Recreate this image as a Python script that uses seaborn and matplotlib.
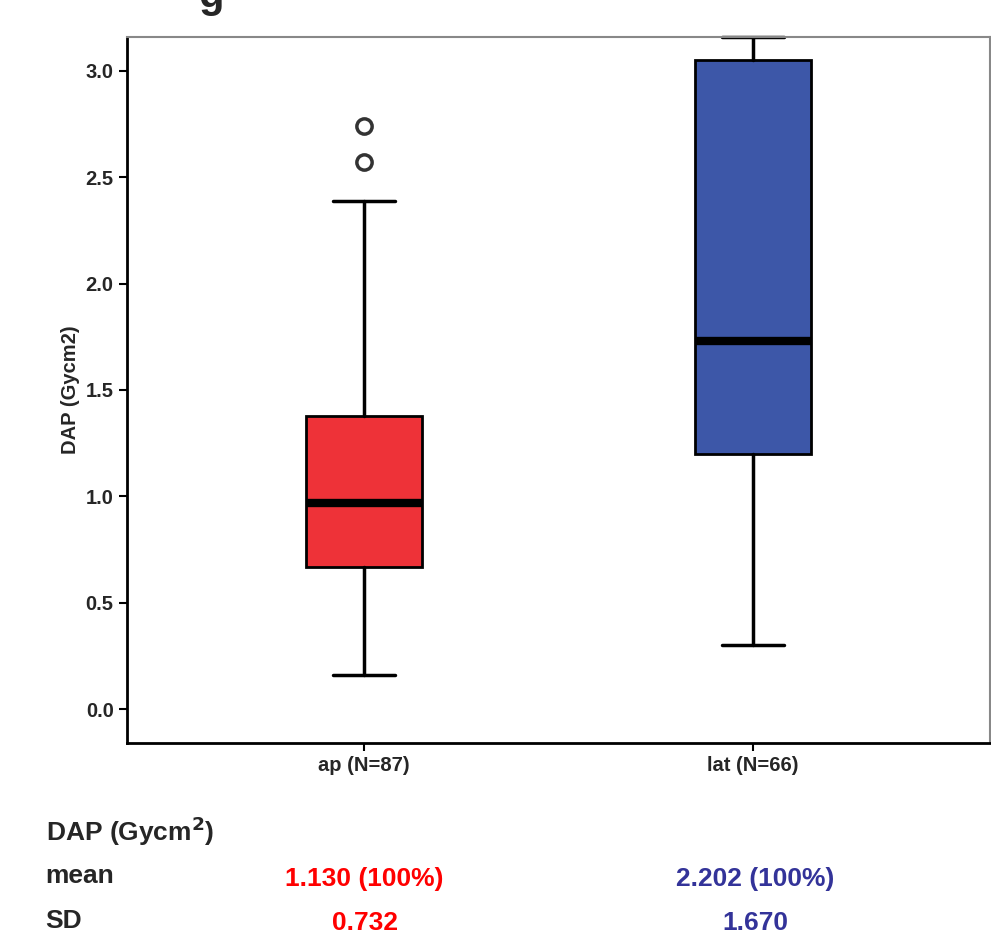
import numpy as np
import pandas as pd
import seaborn as sns
import matplotlib
matplotlib.use('Agg')
import matplotlib.pyplot as plt

sns.set_theme(style='white')
plt.rcParams['font.family'] = ['Liberation Sans', 'DejaVu Sans']

groups = ['ap (N=87)', 'lat (N=66)']
colors = ['#ee3238', '#3d57a8']
whislo = [0.16, 0.30]
q1 = [0.67, 1.20]
med = [0.97, 1.73]
q3 = [1.38, 3.05]
whishi = [2.39, 3.16]
fliers = [[2.57, 2.74], []]
means = ['1.130 (100%)', '2.202 (100%)']
sds = ['0.732', '1.670']
text_colors = ['#ff0000', '#333399']

stats = pd.DataFrame({'label': groups, 'whislo': whislo, 'q1': q1, 'med': med,
                      'q3': q3, 'whishi': whishi, 'fliers': fliers})

fig = plt.figure(figsize=(9.91, 9.42), dpi=100)
ax = fig.add_axes([0.128, 0.211, 0.871, 0.75])

bp = ax.bxp(stats.to_dict('records'), positions=[0, 1], widths=0.3, patch_artist=True,
            boxprops=dict(linewidth=2, edgecolor='black'),
            medianprops=dict(color='black', linewidth=6),
            whiskerprops=dict(color='black', linewidth=2.5),
            capprops=dict(color='black', linewidth=2.5), capwidths=0.16,
            flierprops=dict(marker='o', markersize=11, markerfacecolor='white',
                            markeredgecolor='#333333', markeredgewidth=2.5))
for patch, c in zip(bp['boxes'], colors):
    patch.set_facecolor(c)
for cap in bp['caps']:
    cap.set_clip_on(False)

ax.set_xlim(-0.61, 1.61)
ax.set_ylim(-0.16, 3.16)
ax.set_yticks(np.arange(0, 3.01, 0.5))
ax.set_yticklabels([f'{v:.1f}' for v in np.arange(0, 3.01, 0.5)], fontsize=14.5, fontweight='bold')
ax.set_xticklabels(groups, fontsize=14.5, fontweight='bold')
ax.set_ylabel('DAP (Gycm2)', fontsize=14.5, fontweight='bold')
ax.tick_params(axis='both', length=6, width=1.5, direction='out', color='black', left=True, bottom=True)
for side in ['left', 'bottom']:
    ax.spines[side].set_linewidth(2)
    ax.spines[side].set_color('black')
for side in ['top', 'right']:
    ax.spines[side].set_linewidth(1.5)
    ax.spines[side].set_color('#888888')

fig.text(0.2, 1.004, 'g', fontsize=30, fontweight='bold', va='center')
fig.text(0.046, 0.118, 'DAP (Gycm$^\\mathbf{2}$)', fontsize=19, fontweight='bold', va='center')
fig.text(0.046, 0.070, 'mean', fontsize=19, fontweight='bold', va='center')
fig.text(0.046, 0.022, 'SD', fontsize=19, fontweight='bold', va='center')
for x, m, s, c in zip([0.368, 0.762], means, sds, text_colors):
    fig.text(x, 0.067, m, fontsize=19, fontweight='bold', color=c, ha='center', va='center')
    fig.text(x, 0.020, s, fontsize=19, fontweight='bold', color=c, ha='center', va='center')

fig.savefig('out.png', dpi=100)
